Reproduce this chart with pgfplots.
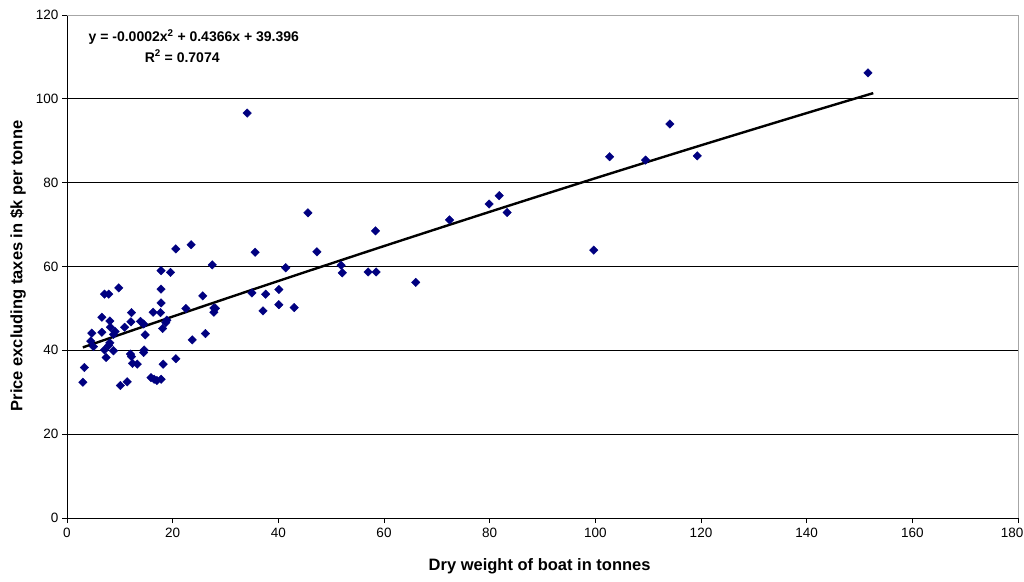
\documentclass[border=0pt]{standalone}
\usepackage{fontspec}
\setmainfont{Liberation Sans}
\usepackage{pgfplots}
\pgfplotsset{compat=1.18}
\definecolor{navy}{HTML}{000080}
\begin{document}
\begin{tikzpicture}
\begin{axis}[
  at={(0pt,0pt)}, anchor=south west,
  scale only axis, width=951pt, height=503pt,
  xmin=0, xmax=180, ymin=0, ymax=120,
  xtick={0,20,...,160}, ytick={0,20,...,120},
  extra x ticks={180},
  extra x tick style={tick label style={xshift=-6pt}},
  axis x line*=bottom, axis y line*=left,
  axis line style={black, line width=0.9pt, -},
  ymajorgrids, major grid style={black, line width=0.7pt},
  tick align=outside, major tick length=5pt,
  tick style={black, line width=0.9pt},
  ticklabel style={font=\fontsize{13.5}{15}\selectfont},
  xticklabel style={yshift=-2pt},
  /pgf/number format/assume math mode=true,
  xlabel={\fontsize{16.5}{19}\selectfont\bfseries Dry weight of boat in tonnes},
  ylabel={\fontsize{16.5}{19}\selectfont\bfseries Price excluding taxes in \$k per tonne},
  xlabel style={at={(axis description cs:0.497,-0.0954)}, anchor=center},
  ylabel style={at={(axis description cs:-0.0515,0.501)}, anchor=center},
  clip=false,
]
\draw[gray!70, line width=0.9pt] (rel axis cs:0,1) -- (rel axis cs:1,1) -- (rel axis cs:1,0);
\addplot[only marks, mark=square*, mark size=3.0pt, mark options={rotate=45, fill=navy, draw=navy}] coordinates {
(3.0,32.4)(3.3,35.9)(4.5,42.2)(4.7,44.1)(5.0,40.9)(6.6,47.9)(6.6,44.3)(7.1,53.4)(7.9,53.4)
(7.1,40.1)(7.4,38.3)(8.1,47.0)(8.2,45.5)(8.1,41.8)(7.9,41.2)(8.8,43.8)(9.1,44.5)(8.8,39.9)
(9.8,54.9)(10.1,31.6)(10.9,45.5)(11.4,32.5)(12.0,39.1)(12.2,38.5)(12.1,46.8)(12.2,49.0)
(12.4,36.9)(13.3,36.7)(13.9,46.9)(14.5,46.3)(14.8,43.7)(14.6,40.1)(14.5,39.5)(15.9,33.5)
(16.3,49.1)(16.5,33.1)(17.0,32.8)(17.8,33.1)(17.7,49.0)(17.8,51.3)(17.8,54.6)(17.8,59.0)
(18.1,45.2)(18.2,36.7)(18.7,46.6)(18.9,47.2)(19.6,58.6)(20.6,64.2)(20.6,38.0)(22.5,50.0)
(23.5,65.2)(23.7,42.5)(25.7,53.0)(26.2,44.0)(27.5,60.4)(27.8,50.1)(28.1,50.0)(27.8,49.1)
(34.1,96.6)(35.0,53.7)(35.6,63.4)(37.1,49.4)(37.6,53.4)(40.1,54.5)(40.1,50.9)(41.4,59.7)
(43.0,50.2)(45.6,72.8)(47.3,63.5)(51.9,60.3)(52.1,58.5)(57.0,58.7)(58.5,58.7)(58.4,68.5)
(66.0,56.2)(72.4,71.1)(79.9,74.9)(81.8,76.9)(83.3,72.9)(99.7,63.9)(102.7,86.2)(109.5,85.4)
(114.1,94.0)(119.3,86.4)(151.6,106.2)
};
\addplot[black, line width=2.4pt, smooth] coordinates {
(3,40.70)(20,48.05)(40,56.54)(60,64.87)(80,73.04)(100,81.06)(120,88.91)(140,96.60)(152.6,101.36)
};
\node[font=\fontsize{14}{16}\selectfont\bfseries] at (axis cs:24.0,114.75)
  {y = -0.0002x\textsuperscript{2} + 0.4366x + 39.396};
\node[font=\fontsize{14}{16}\selectfont\bfseries] at (axis cs:21.8,110.2)
  {R\textsuperscript{2} = 0.7074};
\end{axis}
\pgfresetboundingbox
\path (-67pt,-63pt) rectangle (957pt,518pt);
\end{tikzpicture}
\end{document}
